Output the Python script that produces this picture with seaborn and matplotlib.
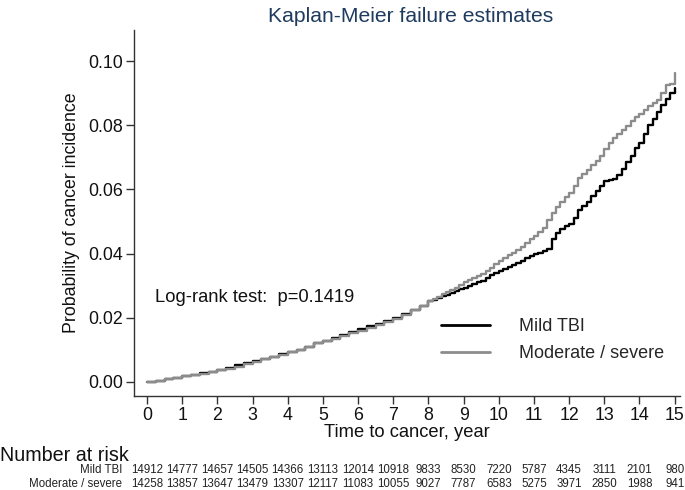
import numpy as np
import pandas as pd
import matplotlib
matplotlib.use("Agg")
import matplotlib.pyplot as plt
import matplotlib.transforms as mtransforms
from matplotlib.lines import Line2D
import seaborn as sns

# ---- data ----
times = [0, 0.25, 0.5, 0.75, 1.0, 1.25, 1.5, 1.75, 2.0, 2.25, 2.5, 2.75, 3.0, 3.25, 3.5, 3.75,
         4.0, 4.25, 4.5, 4.75, 5.0, 5.25, 5.5, 5.75, 6.0, 6.25, 6.5, 6.75, 7.0, 7.25, 7.5, 7.75,
         8.0, 8.125, 8.25, 8.375, 8.5, 8.625, 8.75, 8.875, 9.0, 9.125, 9.25, 9.375, 9.5, 9.625,
         9.75, 9.875, 10.0, 10.125, 10.25, 10.375, 10.5, 10.625, 10.75, 10.875, 11.0, 11.125,
         11.25, 11.375, 11.5, 11.625, 11.75, 11.875, 12.0, 12.125, 12.25, 12.375, 12.5, 12.625,
         12.75, 12.875, 13.0, 13.125, 13.25, 13.375, 13.5, 13.625, 13.75, 13.875, 14.0, 14.125,
         14.25, 14.375, 14.5, 14.625, 14.75, 14.875, 15.0]

mild_tbi = [0, 0.0004, 0.0008, 0.0013, 0.0018, 0.0022, 0.0027, 0.0032, 0.0037, 0.0043, 0.0052,
            0.0060, 0.0066, 0.0071, 0.0079, 0.0086, 0.0093, 0.0101, 0.0110, 0.0120, 0.0128,
            0.0136, 0.0146, 0.0157, 0.0165, 0.0173, 0.0181, 0.0190, 0.0200, 0.0212, 0.0225,
            0.0238,
            0.0251, 0.0256, 0.0262, 0.0267, 0.0272, 0.0278, 0.0284, 0.0289, 0.0294, 0.0300,
            0.0305, 0.0310, 0.0316, 0.0325, 0.0332, 0.0338, 0.0345, 0.0351, 0.0358, 0.0364,
            0.0370, 0.0378, 0.0385, 0.0392, 0.0398, 0.0403, 0.0408, 0.0415, 0.0445, 0.0465,
            0.0478, 0.0486, 0.0493, 0.0510, 0.0535, 0.0548, 0.0562, 0.0580, 0.0595, 0.0612,
            0.0625, 0.0628, 0.0634, 0.0645, 0.0665, 0.0685, 0.0705, 0.0728, 0.0745, 0.0772,
            0.0800, 0.0820, 0.0840, 0.0862, 0.0882, 0.0900, 0.0915]

moderate_severe = [0, 0.0004, 0.0008, 0.0012, 0.0017, 0.0021, 0.0026, 0.0031, 0.0036, 0.0041,
                   0.0047, 0.0056, 0.0063, 0.0070, 0.0077, 0.0085, 0.0092, 0.0100, 0.0108,
                   0.0120, 0.0127, 0.0134, 0.0142, 0.0152, 0.0160, 0.0168, 0.0177, 0.0187,
                   0.0197, 0.0210, 0.0224, 0.0238,
                   0.0252, 0.0259, 0.0266, 0.0273, 0.0280, 0.0287, 0.0294, 0.0302, 0.0310,
                   0.0318, 0.0325, 0.0330, 0.0336, 0.0346, 0.0356, 0.0366, 0.0376, 0.0386,
                   0.0395, 0.0403, 0.0411, 0.0422, 0.0433, 0.0444, 0.0455, 0.0467, 0.0480,
                   0.0505, 0.0528, 0.0545, 0.0560, 0.0575, 0.0590, 0.0612, 0.0635, 0.0648,
                   0.0660, 0.0675, 0.0690, 0.0705, 0.0725, 0.0745, 0.0760, 0.0773, 0.0785,
                   0.0798, 0.0812, 0.0825, 0.0836, 0.0848, 0.0860, 0.0870, 0.0880, 0.0900,
                   0.0925, 0.0930, 0.0962]

groups = ["Mild TBI", "Moderate / severe"]
risk_years = list(range(16))
risk_mild = [14912, 14777, 14657, 14505, 14366, 13113, 12014, 10918, 9833, 8530, 7220, 5787,
             4345, 3111, 2101, 980]
risk_mod = [14258, 13857, 13647, 13479, 13307, 12117, 11083, 10055, 9027, 7787, 6583, 5275,
            3971, 2850, 1988, 941]

# ---- plot ----
sns.set_theme(style="white")
plt.rcParams["font.family"] = ["Liberation Sans", "DejaVu Sans"]

df = pd.DataFrame({
    "time": times + times,
    "prob": mild_tbi + moderate_severe,
    "group": [groups[0]] * len(times) + [groups[1]] * len(times),
})

colors = {"Mild TBI": "#000000", "Moderate / severe": "#8c8c8c"}

fig = plt.figure(figsize=(6.85, 4.9), dpi=100)
ax = fig.add_axes([0.1956, 0.1918, 0.797, 0.747])

sns.lineplot(data=df, x="time", y="prob", hue="group", palette=colors, estimator=None,
             drawstyle="steps-post", linewidth=1.7, legend=False, ax=ax)

ax.set_xlim(-0.37, 15.15)
ax.set_ylim(-0.0044, 0.1097)
ax.set_xticks(range(16))
ax.set_yticks([0, 0.02, 0.04, 0.06, 0.08, 0.10])
ax.set_yticklabels(["0.00", "0.02", "0.04", "0.06", "0.08", "0.10"])
ax.tick_params(axis="both", direction="out", length=6, width=1, color="#333333",
               labelsize=12.8, labelcolor="#111111", bottom=True, left=True, pad=2)
for s in ["top", "right"]:
    ax.spines[s].set_visible(False)
for s in ["left", "bottom"]:
    ax.spines[s].set_color("#333333")
    ax.spines[s].set_linewidth(1)

ax.set_xlabel("Time to cancer, year", fontsize=13.2, color="#111111", labelpad=0)
ax.set_ylabel("Probability of cancer incidence", fontsize=12.8, color="#111111", labelpad=6)
fig.text(0.600, 0.967, "Kaplan-Meier failure estimates", ha="center", va="center",
         fontsize=15.2, color="#1f3b5e")

ax.text(0.038, 0.27, "Log-rank test:  p=0.1419", transform=ax.transAxes, fontsize=13.2,
        color="#111111", ha="left", va="center")

handles = [Line2D([0], [0], color=colors[g], lw=2) for g in groups]
ax.legend(handles, groups, loc="center left", bbox_to_anchor=(0.556, 0.153), frameon=False,
          fontsize=13, handlelength=2.7, handletextpad=1.6, labelspacing=0.55,
          borderpad=0.2, borderaxespad=0)

# risk table
trans = mtransforms.blended_transform_factory(ax.transData, fig.transFigure)
fig.text(0.0, 0.070, "Number at risk", fontsize=14.2, color="#111111", ha="left", va="center")
fig.text(0.178, 0.040, groups[0], fontsize=8.3, color="#222222", ha="right", va="center")
fig.text(0.178, 0.012, groups[1], fontsize=8.3, color="#222222", ha="right", va="center")
for yr, a, b in zip(risk_years, risk_mild, risk_mod):
    ax.text(yr, 0.040, str(a), transform=trans, fontsize=8.3, color="#222222",
            ha="center", va="center", clip_on=False)
    ax.text(yr, 0.012, str(b), transform=trans, fontsize=8.3, color="#222222",
            ha="center", va="center", clip_on=False)

fig.savefig("out.png", dpi=100)
